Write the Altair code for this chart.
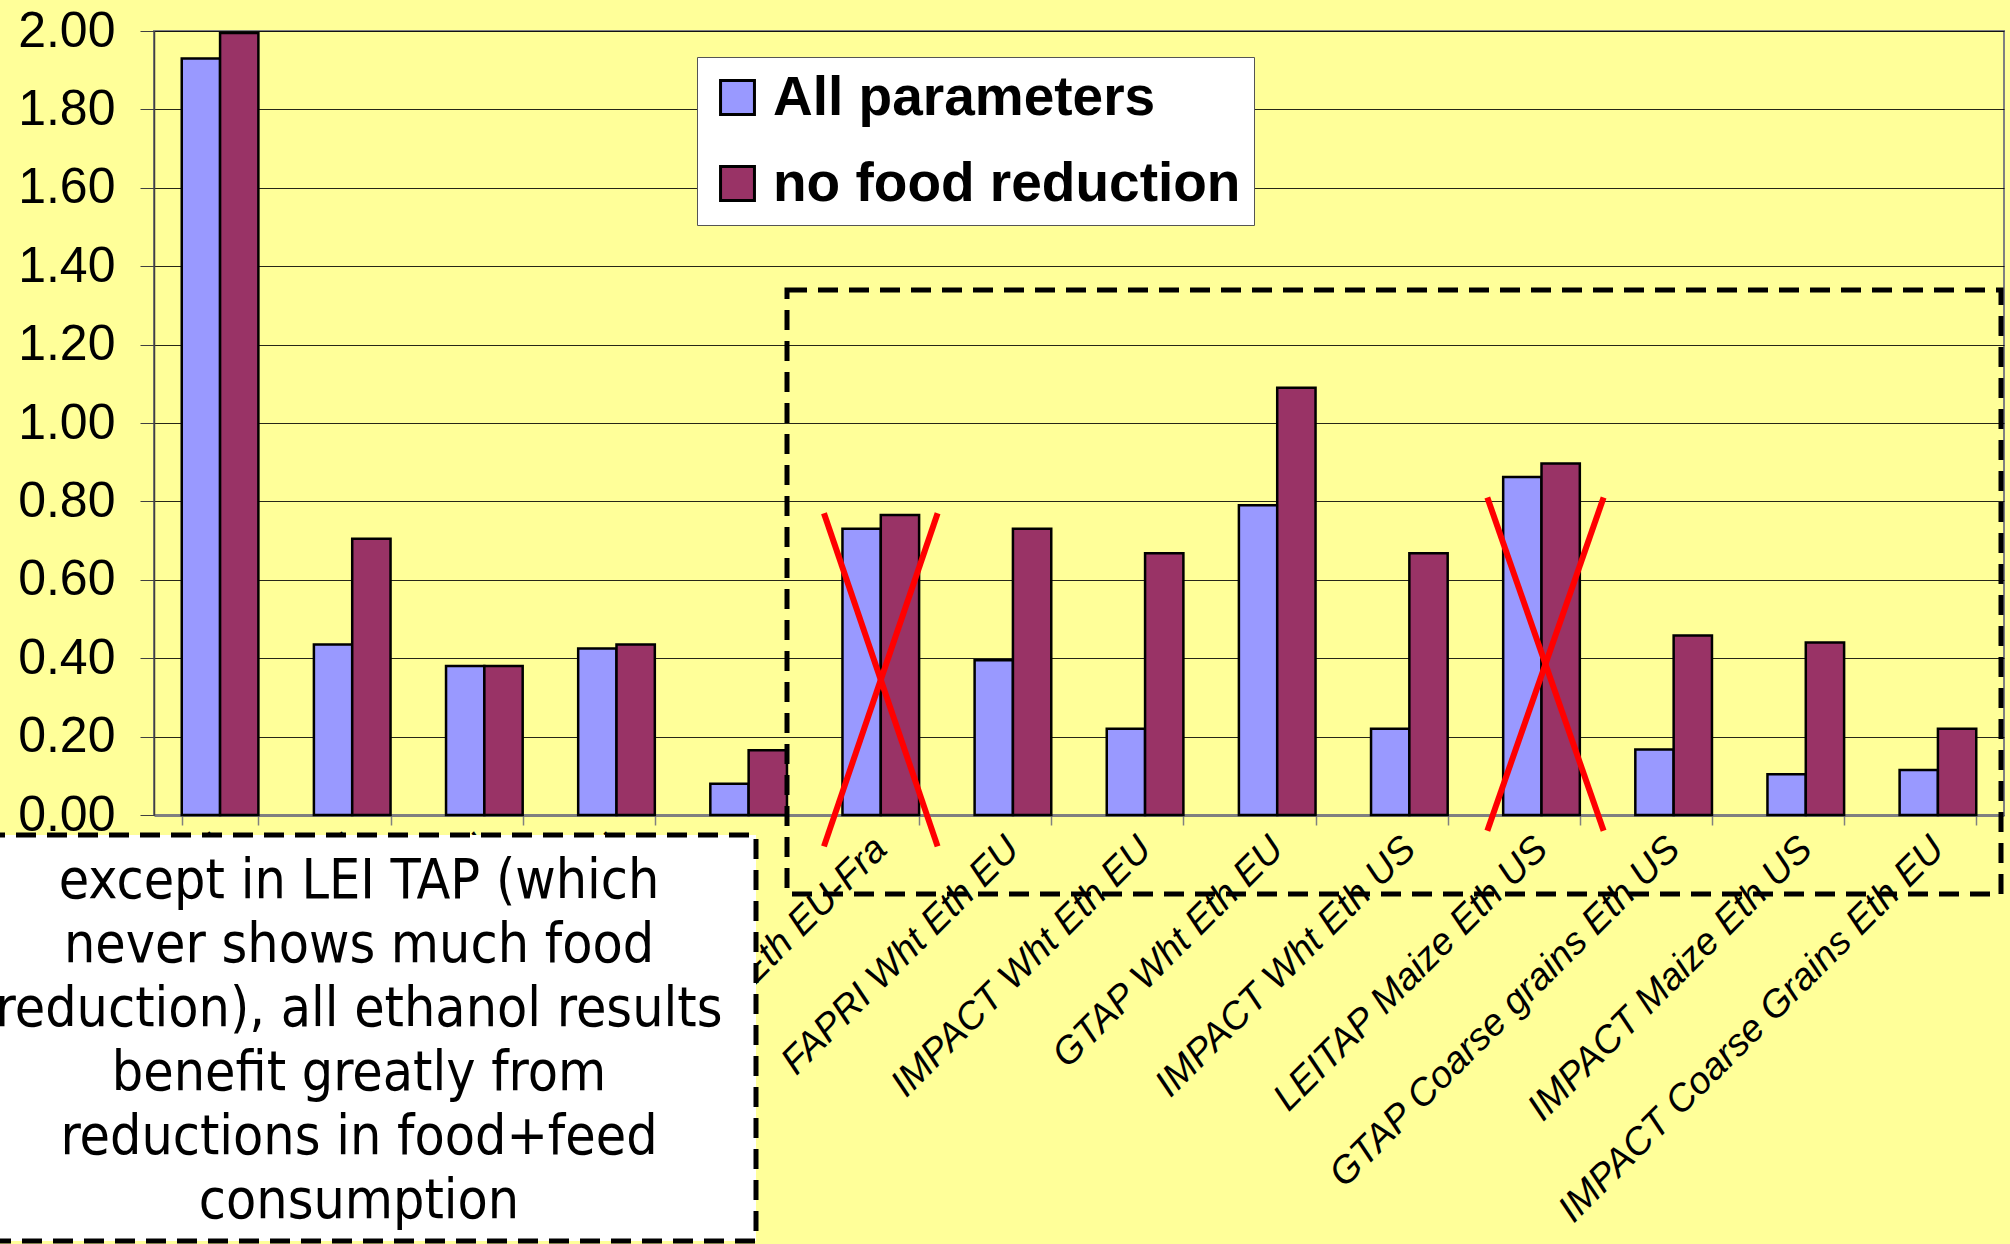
import altair as alt
import pandas as pd

# ---------------- data ----------------
categories = [
    "FAPRI Sugarcane Eth Brazil",
    "GTAP Sugarcane Eth Brazil",
    "IMPACT Sugarcane Eth Brazil",
    "LEITAP Sugarcane Eth Brazil",
    "GTAP Wht Eth EU-Fra",
    "LEITAP Wht Eth EU-Fra",
    "FAPRI Wht Eth EU",
    "IMPACT Wht Eth EU",
    "GTAP Wht Eth EU",
    "IMPACT Wht Eth US",
    "LEITAP Maize Eth US",
    "GTAP Coarse grains Eth US",
    "IMPACT Maize Eth US",
    "IMPACT Coarse Grains Eth EU",
]
all_parameters = [1.93, 0.435, 0.38, 0.425, 0.08, 0.73, 0.395, 0.22, 0.79, 0.22, 0.862, 0.167, 0.104, 0.115]
no_food_reduction = [1.995, 0.705, 0.38, 0.435, 0.165, 0.765, 0.73, 0.668, 1.09, 0.668, 0.897, 0.458, 0.44, 0.22]
series = ["All parameters", "no food reduction"]
y_ticks = [0.0, 0.2, 0.4, 0.6, 0.8, 1.0, 1.2, 1.4, 1.6, 1.8, 2.0]
note_lines = [
    "except in LEI TAP (which",
    "never shows much food",
    "reduction), all ethanol results",
    "benefit greatly from",
    "reductions in food+feed",
    "consumption",
]
crossed_out = ["LEITAP Wht Eth EU-Fra", "LEITAP Maize Eth US"]

df = pd.DataFrame({
    "category": categories * 2,
    "series": [series[0]] * len(categories) + [series[1]] * len(categories),
    "value": all_parameters + no_food_reduction,
})

# ---------------- layout ----------------
W, H = 1850, 784
PAD_L, PAD_T = 154, 31
step = W / len(categories)


def ypix(v):
    return H * (1 - v / 2.0)


bars = alt.Chart(df).mark_bar(stroke="black", strokeWidth=2.5).encode(
    x=alt.X(
        "category:N", sort=categories, title=None,
        scale=alt.Scale(paddingInner=0.42, paddingOuter=0.21),
        axis=alt.Axis(
            labelAngle=-45, labelAlign="right", labelBaseline="middle",
            labelFont="Liberation Sans", labelFontStyle="italic", labelFontSize=38,
            labelColor="black", labelPadding=18, labelLimit=1000,
            tickBand="extent", tickSize=10, tickColor="#808080", tickWidth=1.5,
            domainColor="#808080", domainWidth=3, grid=False,
        ),
    ),
    xOffset=alt.XOffset("series:N", sort=series, scale=alt.Scale(paddingInner=0, paddingOuter=0)),
    y=alt.Y(
        "value:Q", title=None,
        scale=alt.Scale(domain=[0, 2], nice=False, zero=True),
        axis=alt.Axis(
            values=y_ticks, format=".2f", labelFont="Liberation Sans", labelFontSize=50,
            labelColor="black", labelPadding=25, tickSize=14, tickColor="#404040",
            domainColor="#404040", domainWidth=1.5, grid=True, gridColor="black",
            gridWidth=1, gridOpacity=0.85,
        ),
    ),
    color=alt.Color(
        "series:N", sort=series,
        scale=alt.Scale(domain=series, range=["#9999FF", "#993366"]),
        legend=alt.Legend(
            title=None, orient="none", legendX=543, legendY=26,
            fillColor="white", strokeColor="#555555", padding=13,
            symbolType="square", symbolSize=1150, symbolStrokeColor="black",
            symbolStrokeWidth=3, symbolOpacity=1,
            labelFont="Liberation Sans", labelFontSize=55, labelFontWeight="bold",
            labelColor="black", labelOffset=8, rowPadding=30, labelLimit=1000,
            labelBaseline="middle",
        ),
    ),
)

one = pd.DataFrame({"k": [0]})

dash_box = alt.Chart(one).mark_rect(
    fill="transparent", stroke="black", strokeWidth=5, strokeDash=[20, 11]
).encode(
    x=alt.value(787 - PAD_L), x2=alt.value(2001 - PAD_L),
    y=alt.value(290 - PAD_T), y2=alt.value(894 - PAD_T),
)

cross_layers = []
cross_specs = [
    (categories.index(crossed_out[0]), -0.43, 0.43, 0.77, -0.08),
    (categories.index(crossed_out[1]), -0.41, 0.47, 0.81, -0.04),
]
for idx, lo, hi, vtop, vbot in cross_specs:
    cx = step * (idx + 0.5)
    xa, xb = cx + lo * step, cx + hi * step
    for (x1, x2) in [(xa, xb), (xb, xa)]:
        cross_layers.append(
            alt.Chart(one).mark_rule(color="#FF0000", strokeWidth=6).encode(
                x=alt.value(x1), x2=alt.value(x2),
                y=alt.value(ypix(vtop)), y2=alt.value(ypix(vbot)),
            )
        )

note_box = alt.Chart(one).mark_rect(
    fill="white", stroke="black", strokeWidth=5, strokeDash=[20, 11]
).encode(
    x=alt.value(-200), x2=alt.value(756 - PAD_L),
    y=alt.value(835 - PAD_T), y2=alt.value(1241 - PAD_T),
)

note_df = pd.DataFrame({"note": ["\n".join(note_lines)]})
note_text = alt.Chart(note_df).mark_text(
    align="center", baseline="alphabetic", lineBreak="\n", lineHeight=64,
    font="DejaVu Sans Condensed, Liberation Sans Narrow, DejaVu Sans",
    fontSize=55, color="black",
).encode(
    x=alt.value(359 - PAD_L), y=alt.value(898 - PAD_T), text="note:N",
)

chart = alt.layer(bars, dash_box, *cross_layers, note_box, note_text).properties(
    width=W, height=H,
    autosize=alt.AutoSizeParams(type="none"),
    padding={"left": PAD_L, "top": PAD_T, "right": 2010 - PAD_L - W, "bottom": 1244 - PAD_T - H},
    background="#FFFF99",
).configure_view(stroke="#808080", strokeWidth=2)

chart.save("out.html", embed_options={"renderer": "svg", "actions": False})
